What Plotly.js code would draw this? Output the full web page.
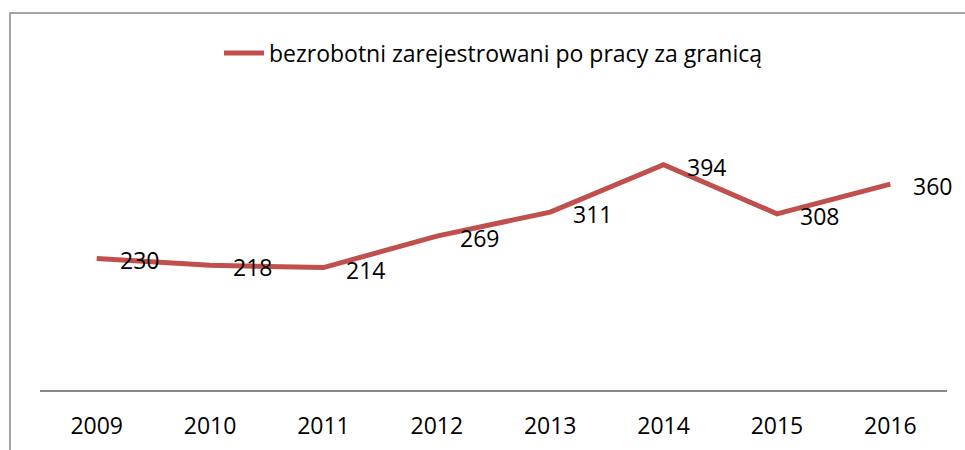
<!DOCTYPE html>
<html><head><meta charset="utf-8">
<script src="https://cdn.plot.ly/plotly-3.0.1.min.js"></script>
<style>html,body{margin:0;padding:0;background:#fff}#chart{width:965px;height:450px}</style>
</head><body><div id="chart"></div>
<script>
const years = ['2009','2010','2011','2012','2013','2014','2015','2016'];
const values = [230, 218, 214, 269, 311, 394, 308, 360];
const seriesName = 'bezrobotni zarejestrowani po pracy za granicą';

const FONT = 'Open Sans, Liberation Sans, sans-serif';
const ML = 40, MR = 18, MT = 104, MB = 60, W = 965, H = 450;
const PW = W - ML - MR, PH = H - MT - MB;
const px = x => (x - ML) / PW;
const py = y => (H - MB - y) / PH;

const trace = {
  x: years, y: values, type: 'scatter', mode: 'lines', name: seriesName,
  line: {color: '#C0504D', width: 5, shape: 'linear'},
  hoverinfo: 'skip', cliponaxis: false
};

// category index used as annotation x (numeric-looking category names would be read as indices)
const annotations = years.map((yr, i) => ({
  x: years.indexOf(yr), y: values[i], xref: 'x', yref: 'y', text: String(values[i]),
  showarrow: false, xanchor: 'left', yanchor: 'middle', xshift: 21, yshift: -2,
  font: {family: FONT, size: 23, color: '#000'}
}));

const layout = {
  width: W, height: H,
  margin: {l: ML, r: MR, t: MT, b: MB},
  paper_bgcolor: '#fff', plot_bgcolor: '#fff',
  showlegend: true,
  legend: {
    orientation: 'h', x: 0.5, xanchor: 'center', y: py(53), yanchor: 'middle',
    font: {family: FONT, size: 23, color: '#000'}, itemwidth: 40
  },
  xaxis: {
    type: 'category', range: [-0.5, 7.5], showgrid: false, zeroline: false,
    showline: true, linecolor: '#888', linewidth: 1.5, ticks: '',
    ticklabelstandoff: 15,
    tickfont: {family: FONT, size: 23, color: '#000'}, fixedrange: true
  },
  yaxis: {range: [0, 500], showgrid: false, zeroline: false, showline: false,
          showticklabels: false, ticks: '', fixedrange: true},
  annotations: annotations,
  shapes: [{
    type: 'rect', xref: 'paper', yref: 'paper',
    x0: px(10), x1: px(1000), y0: py(13), y1: py(480),
    line: {color: '#888', width: 1.5}, fillcolor: 'rgba(0,0,0,0)', layer: 'below'
  }]
};

Plotly.newPlot('chart', [trace], layout, {staticPlot: true, displayModeBar: false});
</script></body></html>
